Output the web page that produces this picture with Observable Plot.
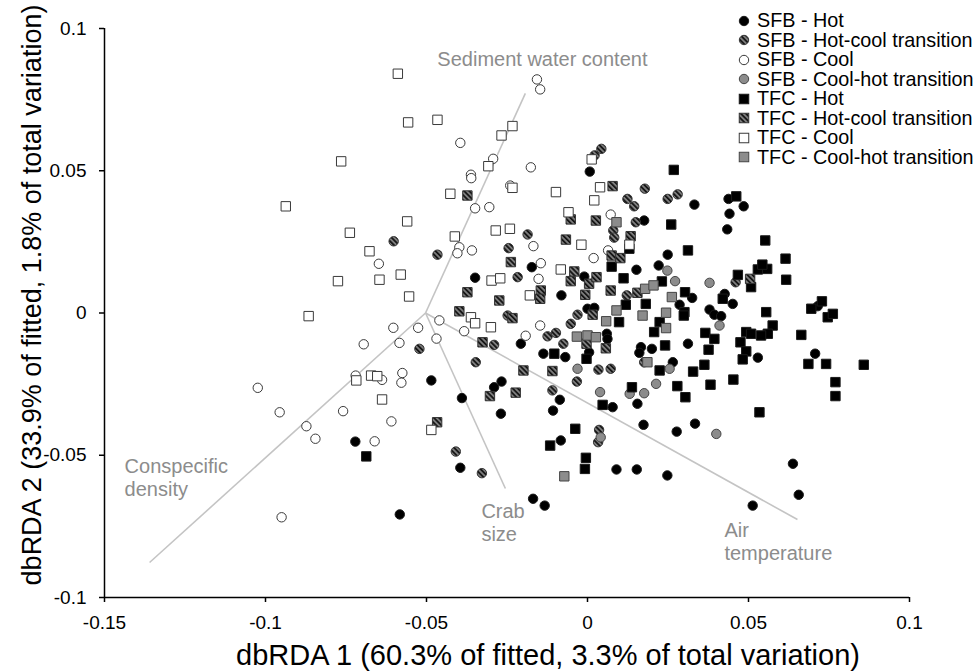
<!DOCTYPE html>
<html><head><meta charset="utf-8">
<script src="https://cdn.jsdelivr.net/npm/d3@7"></script>
<script src="https://cdn.jsdelivr.net/npm/@observablehq/plot@0.6"></script>
<style>
body{margin:0;background:#fff;}
#wrap{position:relative;width:974px;height:671px;font-family:"Liberation Sans",Arial,sans-serif;}
#legend{position:absolute;left:736px;top:11px;font-size:19.8px;color:#000;}
.row{display:flex;align-items:center;height:19.5px;white-space:nowrap;}
.row svg{width:16px;height:16px;margin-right:5px;overflow:visible;}
</style></head><body><div id="wrap"><div id="legend"></div></div>
<script>
// ---- data ----
const groups = ["SFB - Hot","SFB - Hot-cool transition","SFB - Cool","SFB - Cool-hot transition","TFC - Hot","TFC - Hot-cool transition","TFC - Cool","TFC - Cool-hot transition"];
const xTicks = [-0.15,-0.1,-0.05,0,0.05,0.1];
const xTickLabels = ["-0.15","-0.1","-0.05","0","0.05","0.1"];
const yTicks = [-0.1,-0.05,0,0.05,0.1];
const yTickLabels = ["-0.1","-0.05","0","0.05","0.1"];
const xTitle = "dbRDA 1 (60.3% of fitted, 3.3% of total variation)";
const yTitle = "dbRDA 2 (33.9% of fitted, 1.8% of total variation)";
const vectorNames = ["Sediment water content","Conspecific\ndensity","Crab\nsize","Air\ntemperature"];
const vectorX = [-0.0193,-0.1360,-0.0255,0.0652];
const vectorY = [0.0772,-0.0877,-0.0617,-0.0726];
const vectorOrigin = [-0.0503,0.0];

const sfbHot = [
[0.0007,0.0497],[0.0332,0.0381],[0.0438,0.0401],[0.0485,0.0375],[0.0441,0.0349],
[-0.0173,0.0161],[-0.0349,0.0124],[-0.0081,0.0062],[-0.0207,-0.0108],[0.0176,0.0325],
[0.0152,0.0152],[-0.0010,0.0128],[0.0000,0.0015],[0.0021,0.0018],[0.0060,-0.0073],
[0.0062,-0.0091],[-0.0137,-0.0143],[-0.0069,-0.0155],[0.0005,-0.0138],[0.0166,-0.0120],
[0.0161,-0.0140],[0.0200,-0.0126],[0.0434,0.0294],[0.0249,0.0205],[0.0221,0.0167],
[0.0325,0.0053],[0.0286,0.0029],[0.0426,0.0067],[0.0451,0.0032],[0.0379,0.0012],
[0.0394,-0.0006],[0.0415,-0.0011],[0.0715,0.0024],[0.0529,-0.0157],[0.0707,-0.0143],
[0.0312,-0.0108],[0.0265,-0.0173],[-0.0485,-0.0237],[-0.0721,-0.0452],[-0.0583,-0.0708],
[-0.0390,-0.0299],[-0.0290,-0.0261],[-0.0267,-0.0241],[-0.0269,-0.0354],[-0.0086,-0.0305],
[-0.0107,-0.0343],[0.0078,-0.0331],[0.0155,-0.0319],[0.0174,-0.0393],[-0.0083,-0.0448],
[0.0090,-0.0550],[0.0153,-0.0550],[-0.0395,-0.0544],[-0.0169,-0.0653],[-0.0133,-0.0677],
[0.0334,-0.0389],[0.0277,-0.0417],[0.0248,-0.0571],[0.0638,-0.0530],[0.0656,-0.0639],
[0.0513,-0.0677]
];
const sfbHotCool = [
[0.0043,0.0577],[0.0022,0.0554],[0.0178,0.0437],[0.0124,0.0401],[0.0145,0.0375],
[0.0249,0.0401],[0.0280,0.0417],[-0.0602,0.0252],[-0.0466,0.0205],[-0.0522,-0.0126],
[-0.0186,0.0276],[-0.0245,0.0228],[-0.0217,0.0126],[-0.0248,-0.0009],[-0.0290,-0.0112],
[-0.0347,-0.0173],[0.0150,0.0319],[0.0080,0.0290],[0.0083,0.0265],[0.0122,0.0062],
[-0.0031,-0.0006],[-0.0052,-0.0038],[-0.0124,-0.0082],[-0.0098,-0.0070],[-0.0075,-0.0108],
[0.0176,-0.0173],[0.0034,-0.0199],[0.0072,-0.0196],[0.0460,0.0108],[-0.0109,-0.0272],
[-0.0033,-0.0241],[0.0036,-0.0411],[0.0033,-0.0454],[-0.0409,-0.0487],[-0.0328,-0.0563]
];
const sfbCool = [
[-0.0157,0.0821],[-0.0147,0.0786],[-0.0395,0.0598],[-0.0293,0.0542],[-0.0176,0.0512],
[-0.0362,0.0486],[-0.0361,0.0474],[-0.0240,0.0448],[-0.0349,0.0368],[-0.0305,0.0372],
[0.0072,0.0346],[-0.0648,0.0173],[-0.0603,-0.0052],[-0.0526,-0.0052],[-0.0460,-0.0026],
[-0.0469,-0.0090],[-0.0695,-0.0110],[-0.0584,-0.0105],[-0.0398,0.0231],[-0.0404,0.0210],
[-0.0359,0.0220],[-0.0168,0.0235],[-0.0145,0.0175],[-0.0152,0.0120],[-0.0383,-0.0064],
[-0.0147,-0.0044],[-0.0192,-0.0080],[0.0019,0.0193],[0.0064,0.0220],[-0.1024,-0.0263],
[-0.0956,-0.0349],[-0.0873,-0.0398],[-0.0845,-0.0442],[-0.0759,-0.0345],[-0.0720,-0.0220],
[-0.0638,-0.0235],[-0.0575,-0.0211],[-0.0578,-0.0245],[-0.0609,-0.0381],[-0.0661,-0.0451],
[-0.0950,-0.0718]
];
const sfbCoolHot = [
[0.0248,0.0149],[0.0272,0.0112],[0.0379,0.0106],[0.0410,-0.0044],[0.0255,-0.0196],
[0.0039,-0.0278],[0.0131,-0.0284],[0.0176,-0.0282],[0.0213,-0.0249],[0.0041,-0.0437],
[0.0400,-0.0425],[-0.0031,-0.0196]
];
const tfcHot = [
[0.0268,0.0503],[0.0462,0.0410],[0.0130,0.0226],[0.0075,0.0163],[0.0112,0.0122],
[0.0119,0.0029],[0.0181,0.0032],[0.0098,-0.0032],[0.0207,-0.0067],[-0.0103,-0.0143],
[-0.0003,-0.0161],[0.0260,0.0311],[0.0552,0.0255],[0.0312,0.0220],[0.0615,0.0191],
[0.0617,0.0117],[0.0231,0.0111],[0.0467,0.0134],[0.0529,0.0153],[0.0558,0.0155],
[0.0543,0.0170],[0.0508,0.0091],[0.0303,0.0073],[0.0301,0.0003],[0.0299,-0.0009],
[0.0420,0.0050],[0.0555,0.0003],[0.0695,0.0015],[0.0728,0.0041],[0.0746,-0.0015],
[0.0762,-0.0003],[0.0575,-0.0044],[0.0560,-0.0073],[0.0539,-0.0079],[0.0493,-0.0067],
[0.0508,-0.0073],[0.0475,-0.0103],[0.0493,-0.0135],[0.0482,-0.0163],[0.0664,-0.0077],
[0.0686,-0.0179],[0.0741,-0.0179],[0.0858,-0.0182],[0.0224,-0.0032],[0.0366,-0.0070],
[0.0394,-0.0091],[0.0376,-0.0129],[0.0241,-0.0114],[0.0363,-0.0182],[0.0224,-0.0202],
[0.0328,-0.0206],[0.0279,-0.0257],[0.0304,-0.0296],[0.0382,-0.0252],[0.0453,-0.0234],
[0.0770,-0.0243],[0.0770,-0.0292],[0.0534,-0.0349],[0.0138,-0.0261],[0.0047,-0.0323],
[-0.0038,-0.0407],[-0.0116,-0.0466],[-0.0005,-0.0509],[-0.0008,-0.0548],[-0.0687,-0.0504]
];
const tfcHotCool = [
[-0.0373,0.0413],[0.0078,0.0446],[-0.0238,0.0179],[-0.0373,0.0073],[-0.0274,0.0044],
[-0.0145,0.0079],[-0.0147,0.0050],[-0.0398,0.0006],[-0.0233,-0.0018],[-0.0326,-0.0103],
[-0.0199,-0.0202],[-0.0052,0.0329],[0.0026,0.0325],[-0.0067,0.0258],[0.0134,0.0270],
[0.0075,0.0202],[0.0102,0.0193],[-0.0041,0.0146],[-0.0052,0.0112],[0.0005,0.0103],
[0.0028,0.0126],[-0.0007,0.0064],[0.0072,0.0079],[0.0155,0.0071],[0.0016,-0.0006],
[-0.0003,-0.0108],[0.0057,-0.0124],[-0.0109,-0.0204],[0.0505,0.0120],[-0.0467,-0.0384],
[-0.0303,-0.0292],[-0.0223,-0.0280]
];
const tfcCool = [
[-0.0589,0.0841],[-0.0557,0.0670],[-0.0466,0.0679],[-0.0765,0.0533],[-0.0937,0.0375],
[-0.0233,0.0657],[-0.0267,0.0624],[-0.0308,0.0516],[-0.0233,0.0440],[-0.0426,0.0419],
[-0.0098,0.0425],[-0.0059,0.0354],[0.0013,0.0540],[0.0039,0.0442],[0.0021,0.0396],
[-0.0560,0.0322],[-0.0738,0.0282],[-0.0677,0.0217],[-0.0775,0.0112],[-0.0646,0.0117],
[-0.0580,0.0135],[-0.0554,0.0058],[-0.0866,-0.0011],[-0.0412,0.0269],[-0.0285,0.0290],
[-0.0241,0.0296],[-0.0298,0.0114],[-0.0271,0.0122],[-0.0179,0.0062],[-0.0362,-0.0015],
[-0.0349,-0.0036],[-0.0300,-0.0050],[-0.0019,0.0240],[0.0130,0.0240],[-0.0083,0.0153],
[-0.0718,-0.0237],[-0.0672,-0.0220],[-0.0653,-0.0222],[-0.0638,-0.0304],[-0.0485,-0.0411]
];
const tfcCoolHot = [
[0.0090,0.0319],[0.0179,0.0085],[0.0205,0.0097],[0.0090,0.0009],[0.0058,-0.0029],
[0.0171,-0.0009],[-0.0033,-0.0083],[0.0000,-0.0079],[0.0026,-0.0085],[0.0186,-0.0173],
[0.0262,0.0056],[0.0244,0.0001],[0.0244,-0.0053],[-0.0072,-0.0574]
];

// ---- styles ----
const series = [sfbHot, sfbHotCool, sfbCool, sfbCoolHot, tfcHot, tfcHotCool, tfcCool, tfcCoolHot];
const fills = ["#000000","url(#hatch)","#ffffff","#8c8c8c"];
const strokes = ["#1a1a1a","#333333","#3a3a3a","#444444"];
const vectors = vectorNames.map((name, i) => ({name, x: vectorX[i], y: vectorY[i]}));
const labelOffsets = [[-88,-43],[-25,-105],[-24,14],[-73,2]];
const FONT = '"Liberation Sans", Arial, sans-serif';

const dotMarks = series.map((data, i) => Plot.dot(data, {
  x: d => d[0], y: d => d[1],
  symbol: i < 4 ? "circle" : "square",
  r: i < 4 ? 4.7 : 5.3,
  fill: fills[i % 4], stroke: strokes[i % 4], strokeWidth: 1
}));

const labelMarks = vectors.map((v, i) => Plot.text([v], {
  x: d => d.x, y: d => d.y, text: d => d.name,
  textAnchor: "start", lineAnchor: "top", lineHeight: 1.12,
  dx: labelOffsets[i][0], dy: labelOffsets[i][1],
  fill: "#8c8c8c", fontSize: 20
}));

const plot = Plot.plot({
  width: 974, height: 671,
  marginLeft: 104, marginRight: 65, marginTop: 28, marginBottom: 74,
  x: {domain: [-0.15, 0.1]},
  y: {domain: [-0.1, 0.1]},
  style: {fontFamily: FONT, fontSize: "19px", background: "#fff", color: "#000", overflow: "visible"},
  marks: [
    Plot.link(vectors, {x1: () => vectorOrigin[0], y1: () => vectorOrigin[1], x2: d => d.x, y2: d => d.y, stroke: "#c4c4c4", strokeWidth: 1.6}),
    ...labelMarks,
    ...dotMarks,
    Plot.ruleX([xTicks[0]], {stroke: "#000", strokeWidth: 1.5}),
    Plot.ruleY([yTicks[0]], {stroke: "#000", strokeWidth: 1.5}),
    Plot.axisX({ticks: xTicks, tickFormat: d => xTickLabels[xTicks.indexOf(d)], tickSize: 5, tickPadding: 13, fontSize: 19, label: null, strokeWidth: 1.5}),
    Plot.axisY({ticks: yTicks, tickFormat: d => yTickLabels[yTicks.indexOf(d)], tickSize: 5, tickPadding: 13, fontSize: 19, label: null, strokeWidth: 1.5}),
    Plot.text([xTitle], {text: d => d, frameAnchor: "bottom", textAnchor: "middle", lineAnchor: "middle", dy: 58, dx: 41, fontSize: 29, fill: "#000"}),
    Plot.text([yTitle], {text: d => d, frameAnchor: "left", textAnchor: "middle", lineAnchor: "middle", rotate: -90, dx: -72, dy: -18, fontSize: 27, fill: "#000"})
  ]
});

// hatch pattern
const defs = d3.select(plot).insert("defs", ":first-child");
const pat = defs.append("pattern").attr("id", "hatch").attr("patternUnits", "userSpaceOnUse")
  .attr("width", 3.6).attr("height", 3.6).attr("patternTransform", "rotate(-45)");
pat.append("rect").attr("width", 3.6).attr("height", 3.6).attr("fill", "#7d7d7d");
pat.append("rect").attr("width", 1.7).attr("height", 3.6).attr("fill", "#111");

document.getElementById("wrap").prepend(plot);

// legend
const legend = document.getElementById("legend");
groups.forEach((g, i) => {
  const row = document.createElement("div");
  row.className = "row";
  const f = fills[i % 4], s = strokes[i % 4];
  const sym = i < 4
    ? `<circle cx="8" cy="8" r="4.7" fill="${f}" stroke="${s}" stroke-width="1"/>`
    : `<rect x="3.25" y="3.25" width="9.5" height="9.5" fill="${f}" stroke="${s}" stroke-width="1"/>`;
  row.innerHTML = `<svg viewBox="0 0 16 16">${sym}</svg><span>${g}</span>`;
  legend.appendChild(row);
});
</script></body></html>
